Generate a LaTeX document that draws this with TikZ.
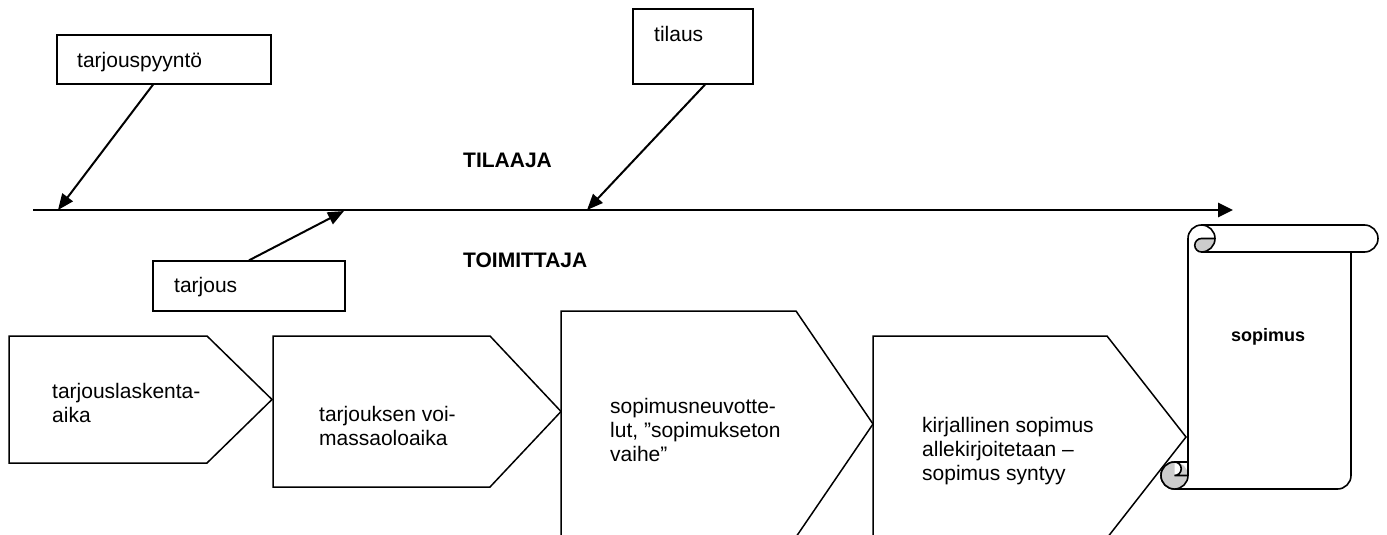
\documentclass[tikz,border=0pt]{standalone}
\usepackage{fontspec}
\setmainfont{Liberation Sans}
\usetikzlibrary{arrows.meta}
\definecolor{curlgray}{RGB}{204,204,204}
\begin{document}
\begin{tikzpicture}[x=1pt,y=-1pt,
  txt/.style={font=\fontsize{21}{24}\selectfont, inner sep=0pt, anchor=north west, align=left},
  boldtxt/.style={font=\fontsize{21}{24}\selectfont\bfseries, inner sep=0pt, anchor=base west},
  labelbox/.style={draw, line width=1.3pt, inner sep=0pt, fill=white},
  conn/.style={line width=2pt, -{Triangle[length=16pt,width=13pt]}},
  timeline/.style={line width=2.6pt, -{Triangle[length=15pt,width=14pt]}},
  phase/.style={draw, line width=1.5pt, fill=white, line join=miter},
  scrollln/.style={draw, line width=1.6pt},
]
\useasboundingbox (0,0) rectangle (1387,535);

% phases
\draw[phase] (9,336) -- (207,336) -- (272,399.5) -- (207,463) -- (9,463) -- cycle;
\draw[phase] (273,336) -- (490,336) -- (561,411.5) -- (490,487) -- (273,487) -- cycle;
\draw[phase] (561,311) -- (796,311) -- (873,424) -- (796,537) -- (561,537) -- cycle;
\draw[phase] (873,336) -- (1107,336) -- (1186,437) -- (1107,538) -- (873,538) -- cycle;

\node[txt] (p1) at (52,383) {tarjouslaskenta-\\aika};
\node[txt] (p2) at (319,406) {tarjouksen voi-\\massaoloaika};
\node[txt] (p3) at (610,398) {sopimusneuvotte-\\lut, ”sopimukseton\\vaihe”};
\node[txt] (p4) at (922,417) {kirjallinen sopimus\\allekirjoitetaan –\\sopimus syntyy};

% scroll
\draw[scrollln, fill=white] (1188,462) -- (1188,238.5)
  arc[start angle=180, end angle=270, radius=13.5] -- (1364.5,225)
  arc[start angle=270, end angle=450, radius=13.5] -- (1351,252) -- (1351,475.5)
  arc[start angle=0, end angle=90, radius=13.5] -- (1174.5,489)
  arc[start angle=90, end angle=270, radius=13.5] -- cycle;
\draw[scrollln] (1351,252) -- (1201.5,252);
\fill[curlgray] (1215,238.5) arc[start angle=0, end angle=90, radius=13.5]
  arc[start angle=90, end angle=270, radius=6.75] -- cycle;
\draw[scrollln] (1201.5,225) arc[start angle=270, end angle=450, radius=13.5]
  arc[start angle=90, end angle=270, radius=6.75] -- (1215,238.5);
\fill[curlgray, even odd rule] (1174.5,475.5) circle[radius=13.5]
  (1174.5,462) arc[start angle=270, end angle=450, radius=6.75] -- cycle;
\draw[scrollln] (1174.5,489) arc[start angle=90, end angle=270, radius=13.5] -- (1188,462);
\draw[scrollln] (1174.5,462) arc[start angle=270, end angle=450, radius=6.75] -- (1188,475.5);
\draw[scrollln] (1174.5,489) arc[start angle=90, end angle=0, radius=13.5] -- (1188,462);
\node[font=\fontsize{18}{22}\selectfont\bfseries, inner sep=0pt, anchor=base] (sop) at (1268,341) {sopimus};

% label boxes
\node[labelbox, minimum width=214pt, minimum height=49pt] (tp) at (164,59.5) {};
\node[labelbox, minimum width=120pt, minimum height=75pt] (ti) at (693,46.5) {};
\node[labelbox, minimum width=192pt, minimum height=50pt] (ta) at (249,286) {};
\node[txt, anchor=base west] (tpt) at (77,67) {tarjouspyyntö};
\node[txt, anchor=base west] (tit) at (654,42) {tilaus};
\node[txt, anchor=base west] (tat) at (174,292) {tarjous};

\node[boldtxt] (tl) at (463,167) {TILAAJA};
\node[boldtxt] (tm) at (463,267) {TOIMITTAJA};

% time line
\coordinate (ls) at (33,210);
\coordinate (le) at (1233,210);
\draw[timeline] (ls) -- (le);
\coordinate (e1) at (58,210);
\coordinate (e2) at (344,211);
\coordinate (e3) at (587,210);
\draw[conn] ([xshift=-11pt]tp.south) -- (e1);
\draw[conn] (ta.north) -- (e2);
\draw[conn] ([xshift=12pt]ti.south) -- (e3);
\end{tikzpicture}
\end{document}
